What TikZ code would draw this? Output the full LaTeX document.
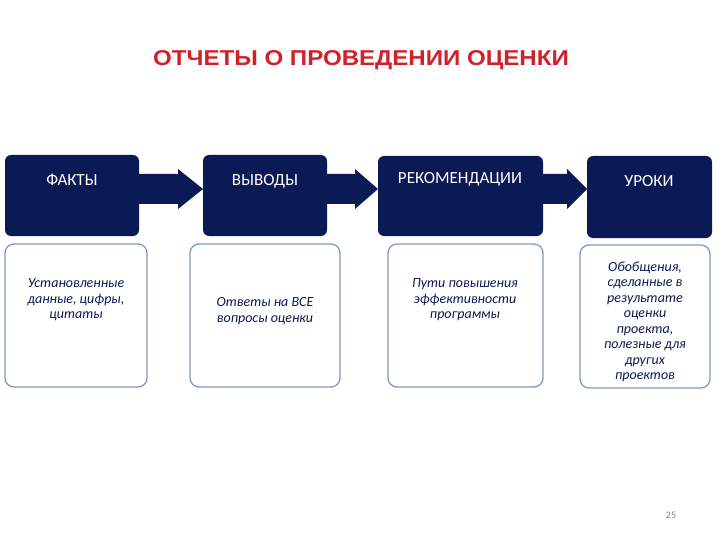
\documentclass[tikz,border=0pt]{standalone}
\usepackage{fontspec}
\setmainfont{Carlito}
\newfontfamily\titlefont[FakeStretch=1.12]{Liberation Sans}
\definecolor{navy}{HTML}{0B1A55}
\definecolor{edge}{HTML}{7F9AC0}
\definecolor{titlered}{HTML}{D0202A}
\begin{document}
\begin{tikzpicture}[x=1pt,y=-1pt,
  head/.style={fill=navy,rounded corners=6pt},
  body/.style={draw=edge,line width=1.3pt,fill=white,rounded corners=9pt},
  htext/.style={text=white,font=\fontsize{17}{19}\selectfont},
  btext/.style={text=navy,font=\fontsize{14}{15.5}\selectfont\itshape,align=center},
  arr/.style={fill=navy}]
\useasboundingbox (0,0) rectangle (720,540);
\node[font=\titlefont\bfseries\fontsize{21.5}{24}\selectfont,text=titlered] (title) at (361,60) {ОТЧЕТЫ О ПРОВЕДЕНИИ ОЦЕНКИ};
% heads
\path[head] (5,155) rectangle (139,236);
\path[head] (203,155) rectangle (327,236);
\path[head] (378,156) rectangle (543,236);
\path[head] (587,156) rectangle (712,238);
\node[htext] (h1) at (72,180) {ФАКТЫ};
\node[htext] (h2) at (265,181) {ВЫВОДЫ};
\node[htext] (h3) at (460,179) {РЕКОМЕНДАЦИИ};
\node[htext] (h4) at (649,181) {УРОКИ};
% arrows
\fill[arr] (139,174) -- (178,174) -- (178,169) -- (203,189) -- (178,209) -- (178,204) -- (139,204) -- cycle;
\fill[arr] (327,174) -- (355,174) -- (355,169) -- (378,189) -- (355,209) -- (355,204) -- (327,204) -- cycle;
\fill[arr] (543,174) -- (567,174) -- (567,169) -- (587,189) -- (567,209) -- (567,204) -- (543,204) -- cycle;
% bodies
\draw[body] (5,244) rectangle (147,387);
\draw[body] (190,244) rectangle (340,387);
\draw[body] (388,244) rectangle (543,387);
\draw[body] (580,245) rectangle (710,388);
\node[btext] (b1) at (76,300) {Установленные\\данные, цифры,\\цитаты};
\node[btext] (b2) at (265,311) {Ответы на ВСЕ\\вопросы оценки};
\node[btext] (b3) at (465,300) {Пути повышения\\эффективности\\программы};
\node[btext] (b4) at (645,322) {Обобщения,\\сделанные в\\результате\\оценки\\проекта,\\полезные для\\других\\проектов};
\node[text=gray,font=\fontsize{10}{11}\selectfont] (pg) at (671,515) {25};
\end{tikzpicture}
\end{document}
